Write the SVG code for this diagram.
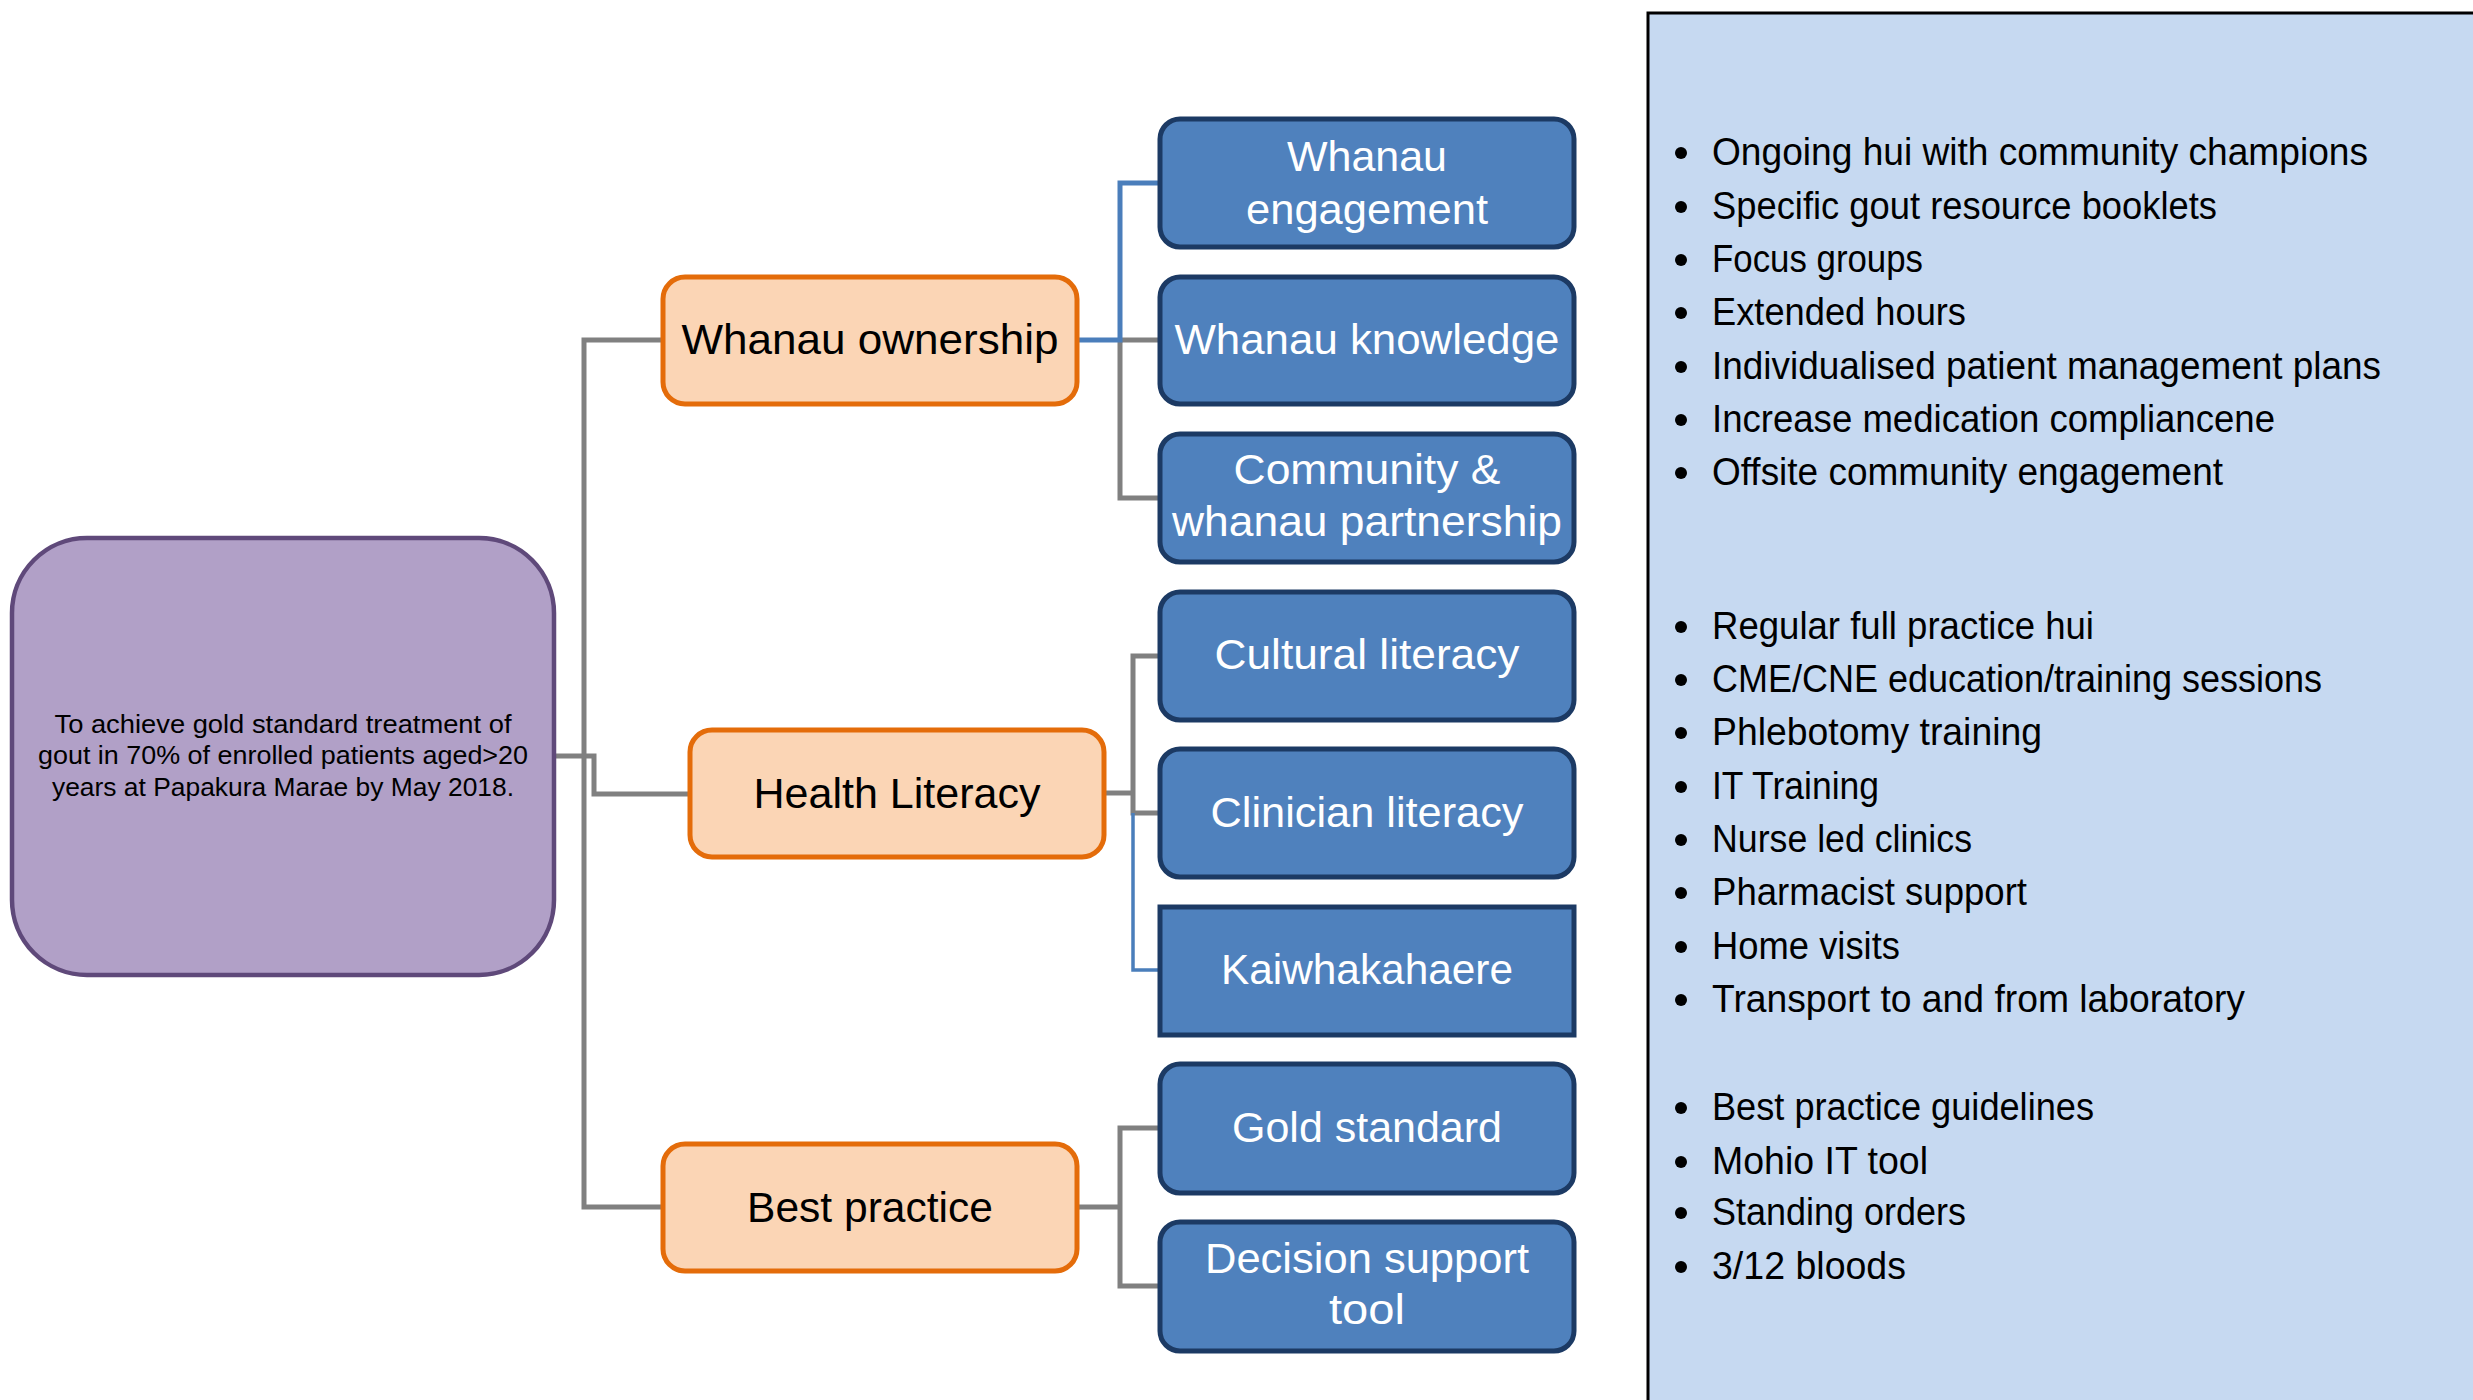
<svg xmlns="http://www.w3.org/2000/svg" width="2473" height="1400" viewBox="0 0 2473 1400">
<style>
text{font-family:"Liberation Sans",Arial,sans-serif}
.goal rect{fill:#b1a0c7;stroke:#5f497a;stroke-width:4.5}
.goal text{font-size:26px;fill:#000;text-anchor:middle}
.cat rect{fill:#fbd5b5;stroke:#e46c0a;stroke-width:5}
.cat text{font-size:43px;fill:#000;text-anchor:middle}
.sub rect{fill:#4f81bd;stroke:#1c3a64;stroke-width:5}
.sub text{font-size:43px;fill:#fff;text-anchor:middle}
.g{fill:none;stroke:#808080;stroke-width:5}
.b{fill:none;stroke:#4a7ebb;stroke-width:5}
.bt{fill:none;stroke:#4a7ebb;stroke-width:3.5}
.panel rect{fill:#c6d9f1;stroke:#000;stroke-width:3}
.panel text{font-size:38px;fill:#000}
.panel circle{fill:#000}
</style>
<g id="panel" class="panel">
<rect x="1648" y="13" width="840" height="1400"/>
<g>
<circle cx="1681" cy="153" r="6"/><text x="1712" y="165" textLength="656" lengthAdjust="spacingAndGlyphs">Ongoing hui with community champions</text>
<circle cx="1681" cy="207" r="6"/><text x="1712" y="219" textLength="505" lengthAdjust="spacingAndGlyphs">Specific gout resource booklets</text>
<circle cx="1681" cy="260" r="6"/><text x="1712" y="272" textLength="211" lengthAdjust="spacingAndGlyphs">Focus groups</text>
<circle cx="1681" cy="313" r="6"/><text x="1712" y="325" textLength="254" lengthAdjust="spacingAndGlyphs">Extended hours</text>
<circle cx="1681" cy="367" r="6"/><text x="1712" y="379" textLength="669" lengthAdjust="spacingAndGlyphs">Individualised patient management plans</text>
<circle cx="1681" cy="420" r="6"/><text x="1712" y="432" textLength="563" lengthAdjust="spacingAndGlyphs">Increase medication compliancene</text>
<circle cx="1681" cy="473" r="6"/><text x="1712" y="485" textLength="511" lengthAdjust="spacingAndGlyphs">Offsite community engagement</text>
</g>
<g>
<circle cx="1681" cy="627" r="6"/><text x="1712" y="639" textLength="382" lengthAdjust="spacingAndGlyphs">Regular full practice hui</text>
<circle cx="1681" cy="680" r="6"/><text x="1712" y="692" textLength="610" lengthAdjust="spacingAndGlyphs">CME/CNE education/training sessions</text>
<circle cx="1681" cy="733" r="6"/><text x="1712" y="745" textLength="330" lengthAdjust="spacingAndGlyphs">Phlebotomy training</text>
<circle cx="1681" cy="787" r="6"/><text x="1712" y="799" textLength="167" lengthAdjust="spacingAndGlyphs">IT Training</text>
<circle cx="1681" cy="840" r="6"/><text x="1712" y="852" textLength="260" lengthAdjust="spacingAndGlyphs">Nurse led clinics</text>
<circle cx="1681" cy="893" r="6"/><text x="1712" y="905" textLength="315" lengthAdjust="spacingAndGlyphs">Pharmacist support</text>
<circle cx="1681" cy="947" r="6"/><text x="1712" y="959" textLength="188" lengthAdjust="spacingAndGlyphs">Home visits</text>
<circle cx="1681" cy="1000" r="6"/><text x="1712" y="1012" textLength="533" lengthAdjust="spacingAndGlyphs">Transport to and from laboratory</text>
</g>
<g>
<circle cx="1681" cy="1108" r="6"/><text x="1712" y="1120" textLength="382" lengthAdjust="spacingAndGlyphs">Best practice guidelines</text>
<circle cx="1681" cy="1162" r="6"/><text x="1712" y="1174" textLength="216" lengthAdjust="spacingAndGlyphs">Mohio IT tool</text>
<circle cx="1681" cy="1213" r="6"/><text x="1712" y="1225" textLength="254" lengthAdjust="spacingAndGlyphs">Standing orders</text>
<circle cx="1681" cy="1267" r="6"/><text x="1712" y="1279" textLength="194" lengthAdjust="spacingAndGlyphs">3/12 bloods</text>
</g>
</g>
<g id="connectors">
<polyline class="g" points="663,340 584,340 584,1207 663,1207"/>
<polyline class="g" points="553,756 594,756 594,794 690,794"/>
<polyline class="g" points="1120,340 1160,340"/>
<polyline class="g" points="1120,340 1120,498 1160,498"/>
<polyline class="b" points="1077,340 1120,340 1120,183 1160,183"/>
<polyline class="g" points="1104,793 1133,793"/>
<polyline class="g" points="1160,656 1133,656 1133,813 1160,813"/>
<polyline class="bt" points="1133,813 1133,970 1160,970"/>
<polyline class="g" points="1077,1207 1120,1207"/>
<polyline class="g" points="1160,1128 1120,1128 1120,1286 1160,1286"/>
</g>
<g id="goal" class="goal">
<rect x="12" y="538" width="542" height="437" rx="75" ry="75"/>
<text x="283" y="733" textLength="457" lengthAdjust="spacingAndGlyphs">To achieve gold standard treatment of</text>
<text x="283" y="764" textLength="490" lengthAdjust="spacingAndGlyphs">gout in 70% of enrolled patients aged&gt;20</text>
<text x="283" y="796" textLength="462" lengthAdjust="spacingAndGlyphs">years at Papakura Marae by May 2018.</text>
</g>
<g id="whanau-ownership" class="cat">
<rect x="663" y="277" width="414" height="127" rx="22" ry="22"/>
<text x="870" y="354" textLength="377" lengthAdjust="spacingAndGlyphs">Whanau ownership</text>
</g>
<g id="health-literacy" class="cat">
<rect x="690" y="730" width="414" height="127" rx="22" ry="22"/>
<text x="897" y="808" textLength="287" lengthAdjust="spacingAndGlyphs">Health Literacy</text>
</g>
<g id="best-practice" class="cat">
<rect x="663" y="1144" width="414" height="127" rx="22" ry="22"/>
<text x="870" y="1222" textLength="246" lengthAdjust="spacingAndGlyphs">Best practice</text>
</g>
<g id="whanau-engagement" class="sub">
<rect x="1160" y="119" width="414" height="128" rx="20" ry="20"/>
<text x="1367" y="171" textLength="160" lengthAdjust="spacingAndGlyphs">Whanau</text>
<text x="1367" y="224" textLength="242" lengthAdjust="spacingAndGlyphs">engagement</text>
</g>
<g id="whanau-knowledge" class="sub">
<rect x="1160" y="277" width="414" height="127" rx="20" ry="20"/>
<text x="1367" y="354" textLength="385" lengthAdjust="spacingAndGlyphs">Whanau knowledge</text>
</g>
<g id="community-partnership" class="sub">
<rect x="1160" y="434" width="414" height="128" rx="20" ry="20"/>
<text x="1367" y="484" textLength="267" lengthAdjust="spacingAndGlyphs">Community &amp;</text>
<text x="1367" y="536" textLength="390" lengthAdjust="spacingAndGlyphs">whanau partnership</text>
</g>
<g id="cultural-literacy" class="sub">
<rect x="1160" y="592" width="414" height="128" rx="20" ry="20"/>
<text x="1367" y="669" textLength="305" lengthAdjust="spacingAndGlyphs">Cultural literacy</text>
</g>
<g id="clinician-literacy" class="sub">
<rect x="1160" y="749" width="414" height="128" rx="20" ry="20"/>
<text x="1367" y="827" textLength="313" lengthAdjust="spacingAndGlyphs">Clinician literacy</text>
</g>
<g id="kaiwhakahaere" class="sub">
<rect x="1160" y="907" width="414" height="128"/>
<text x="1367" y="984" textLength="292" lengthAdjust="spacingAndGlyphs">Kaiwhakahaere</text>
</g>
<g id="gold-standard" class="sub">
<rect x="1160" y="1064" width="414" height="129" rx="20" ry="20"/>
<text x="1367" y="1142" textLength="270" lengthAdjust="spacingAndGlyphs">Gold standard</text>
</g>
<g id="decision-support-tool" class="sub">
<rect x="1160" y="1222" width="414" height="129" rx="20" ry="20"/>
<text x="1367" y="1273" textLength="324" lengthAdjust="spacingAndGlyphs">Decision support</text>
<text x="1367" y="1324" textLength="76" lengthAdjust="spacingAndGlyphs">tool</text>
</g>
</svg>
